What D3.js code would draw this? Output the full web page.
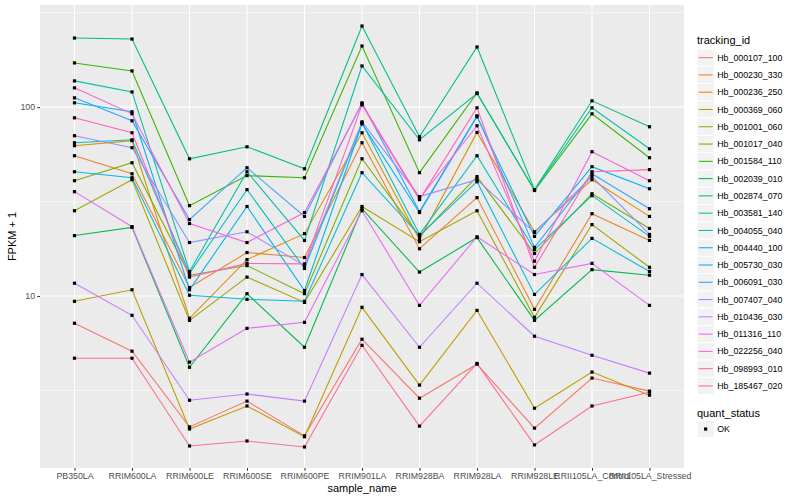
<!DOCTYPE html>
<html lang="en">
<head>
<meta charset="UTF-8">
<title>FPKM by sample</title>
<script src="https://d3js.org/d3.v7.min.js"></script>
<style>
    body { margin: 0; background: #fff; }
    text { font-family: "Liberation Sans", Arial, sans-serif; }
</style>
</head>
<body>
<div id="main"></div>
<script>
    const sampleNames = ["PB350LA", "RRIM600LA", "RRIM600LE", "RRIM600SE", "RRIM600PE", "RRIM901LA",
        "RRIM928BA", "RRIM928LA", "RRIM928LE", "RRII105LA_Control", "RRII105LA_Stressed"]

    const trackingIds = ["Hb_000107_100", "Hb_000230_330", "Hb_000236_250", "Hb_000369_060", "Hb_001001_060",
        "Hb_001017_040", "Hb_001584_110", "Hb_002039_010", "Hb_002874_070", "Hb_003581_140",
        "Hb_004055_040", "Hb_004440_100", "Hb_005730_030", "Hb_006091_030", "Hb_007407_040",
        "Hb_010436_030", "Hb_011316_110", "Hb_022256_040", "Hb_098993_010", "Hb_185467_020"]

    // ggplot default hue palette, 20 levels
    const hueColors = ["#F8766D", "#EA8331", "#D89000", "#C09B00", "#A3A500", "#7CAE00", "#39B600", "#00BB4E",
        "#00BF7D", "#00C1A3", "#00BFC4", "#00BAE0", "#00B0F6", "#35A2FF", "#9590FF", "#C77CFF",
        "#E76BF3", "#FA62DB", "#FF62BC", "#FF6C91"]

    const quantStatus = ["OK"]

    // FPKM + 1 per sample
    const hb000107_100 = [7.18, 5.11, 2.03, 2.78, 1.82, 5.91, 2.88, 4.36, 2.00, 3.68, 3.14]
    const hb000230_330 = [55.3, 44.4, 11.1, 17.0, 16.0, 64.8, 17.8, 33.2, 8.51, 27.3, 19.7]
    const hb000236_250 = [62.5, 66.5, 7.63, 15.6, 21.4, 73.2, 19.9, 73.5, 21.9, 41.3, 26.4]
    const hb000369_060 = [9.38, 10.8, 1.98, 2.62, 1.80, 8.72, 3.38, 8.40, 2.55, 3.96, 2.99]
    const hb001001_060 = [28.3, 41.3, 7.44, 12.6, 9.26, 29.8, 19.4, 28.3, 7.72, 23.9, 14.2]
    const hb001017_040 = [40.8, 50.8, 12.9, 14.5, 10.3, 53.3, 20.7, 42.9, 16.8, 34.8, 22.8]
    const hb001584_110 = [171.4, 155.5, 30.1, 43.4, 42.3, 210.7, 45.0, 119.0, 36.2, 92.2, 54.0]
    const hb002039_010 = [20.9, 23.1, 4.20, 10.3, 5.36, 29.0, 13.4, 20.4, 7.44, 13.8, 12.9]
    const hb002874_070 = [232.2, 229.4, 53.3, 61.7, 47.2, 268.7, 69.7, 208.2, 36.6, 108.0, 78.7]
    const hb003581_140 = [137.7, 120.4, 13.5, 45.5, 19.7, 165.2, 67.2, 118.0, 36.4, 99.2, 60.2]
    const hb004055_040 = [64.8, 67.2, 13.2, 36.6, 14.0, 82.6, 21.2, 55.3, 17.6, 34.0, 20.7]
    const hb004440_100 = [45.5, 42.3, 10.1, 9.61, 9.38, 45.0, 20.9, 40.3, 10.2, 20.2, 13.5]
    const hb005730_030 = [105.4, 94.5, 10.8, 29.8, 10.7, 81.6, 27.7, 88.9, 20.7, 48.4, 37.0]
    const hb006091_030 = [112.0, 84.7, 25.4, 47.8, 26.4, 105.4, 28.0, 90.0, 18.1, 44.4, 29.0]
    const hb007407_040 = [70.6, 61.0, 19.2, 21.9, 14.5, 83.6, 33.6, 41.3, 21.7, 42.9, 21.2]
    const hb010436_030 = [11.7, 7.91, 2.81, 3.03, 2.78, 13.0, 5.36, 11.7, 6.13, 4.86, 3.91]
    const hb011316_110 = [35.7, 23.3, 4.47, 6.75, 7.26, 28.3, 8.93, 20.6, 13.0, 14.9, 8.93]
    const hb022256_040 = [126.5, 92.2, 24.2, 19.2, 27.7, 104.1, 32.8, 79.7, 15.3, 58.1, 40.8]
    const hb098993_010 = [87.8, 73.2, 12.6, 14.9, 14.8, 102.8, 32.4, 99.2, 14.2, 45.5, 46.7]
    const hb185467_020 = [4.69, 4.69, 1.61, 1.71, 1.59, 5.49, 2.05, 4.40, 1.63, 2.62, 3.10]

    const seriesValues = [hb000107_100, hb000230_330, hb000236_250, hb000369_060, hb001001_060,
        hb001017_040, hb001584_110, hb002039_010, hb002874_070, hb003581_140,
        hb004055_040, hb004440_100, hb005730_030, hb006091_030, hb007407_040,
        hb010436_030, hb011316_110, hb022256_040, hb098993_010, hb185467_020]

    let width = 800, height = 500
    let panel = {left: 40, right: 684, top: 5, bottom: 468}

    let svg = d3.select("#main")
        .append("svg")
        .attr("id", "svg")
        .attr("width", width)
        .attr("height", height)

    // discrete x, ggplot style expansion of 0.6 step on each side
    let XScale = d3.scalePoint()
        .domain(sampleNames)
        .range([panel.left, panel.right])
        .padding(0.6)

    // log10 y, expanded 5% of the data range
    let allValues = seriesValues.flat()
    let logMin = Math.log10(d3.min(allValues)), logMax = Math.log10(d3.max(allValues))
    let pad = (logMax - logMin) * 0.05
    let YScale = d3.scaleLog()
        .domain([Math.pow(10, logMin - pad), Math.pow(10, logMax + pad)])
        .range([panel.bottom, panel.top])

    svg.append("rect")
        .attr("x", panel.left).attr("y", panel.top)
        .attr("width", panel.right - panel.left).attr("height", panel.bottom - panel.top)
        .attr("fill", "#EBEBEB")

    let [d0, d1] = YScale.domain()
    let minorBreaks = [0.5, 1.5, 2.5, 3.5].map(p => Math.pow(10, p)).filter(v => v > d0 && v < d1)
    let majorBreaks = [1, 10, 100, 1000].filter(v => v > d0 && v < d1)

    let grid = svg.append("g")
    grid.selectAll(".minor").data(minorBreaks).enter().append("line")
        .attr("x1", panel.left).attr("x2", panel.right)
        .attr("y1", d => YScale(d)).attr("y2", d => YScale(d))
        .attr("stroke", "#fff").attr("stroke-width", 0.53)
    grid.selectAll(".majorY").data(majorBreaks).enter().append("line")
        .attr("x1", panel.left).attr("x2", panel.right)
        .attr("y1", d => YScale(d)).attr("y2", d => YScale(d))
        .attr("stroke", "#fff").attr("stroke-width", 1.07)
    grid.selectAll(".majorX").data(sampleNames).enter().append("line")
        .attr("x1", d => XScale(d)).attr("x2", d => XScale(d))
        .attr("y1", panel.top).attr("y2", panel.bottom)
        .attr("stroke", "#fff").attr("stroke-width", 1.07)

    let line = d3.line()
        .x((d, i) => XScale(sampleNames[i]))
        .y(d => YScale(d))

    svg.append("g").selectAll("path")
        .data(seriesValues)
        .enter()
        .append("path")
        .attr("d", d => line(d))
        .attr("fill", "none")
        .attr("stroke", (d, i) => hueColors[i])
        .attr("stroke-width", 1.07)

    let pts = []
    seriesValues.forEach(s => s.forEach((v, i) => pts.push({x: sampleNames[i], v: v})))
    let pointSize = 3.2
    svg.append("g").selectAll("rect")
        .data(pts)
        .enter()
        .append("rect")
        .attr("x", d => XScale(d.x) - pointSize / 2)
        .attr("y", d => YScale(d.v) - pointSize / 2)
        .attr("width", pointSize)
        .attr("height", pointSize)
        .attr("fill", "#000")

    // axes
    let y_axis = d3.axisLeft(YScale)
        .tickValues(majorBreaks)
        .tickFormat(d3.format("d"))
        .tickSize(2.75)
        .tickPadding(2.2)
    let gy = svg.append("g").attr("transform", `translate(${panel.left},0)`).call(y_axis)

    let x_axis = d3.axisBottom(XScale)
        .tickSize(2.75)
        .tickPadding(2.2)
    let gx = svg.append("g").attr("transform", `translate(0,${panel.bottom})`).call(x_axis)

    ;[gx, gy].forEach(g => {
        g.select(".domain").remove()
        g.selectAll(".tick line").attr("stroke", "#333333").attr("stroke-width", 1.07)
        g.selectAll(".tick text")
            .attr("fill", "#4D4D4D")
            .style("font-size", "8.8px")
            .style("font-family", "'Liberation Sans', Arial, sans-serif")
    })

    svg.append("text")
        .attr("x", (panel.left + panel.right) / 2)
        .attr("y", 492)
        .attr("text-anchor", "middle")
        .style("font-size", "11px")
        .text("sample_name")

    svg.append("text")
        .attr("transform", `translate(16,${(panel.top + panel.bottom) / 2}) rotate(-90)`)
        .attr("text-anchor", "middle")
        .style("font-size", "11px")
        .text("FPKM + 1")

    // legend: tracking_id
    let keySize = 17.28
    let legendX = 697, legendTop = 49
    let legend = svg.append("g")
    legend.append("text")
        .attr("x", legendX).attr("y", 44)
        .style("font-size", "11px")
        .text("tracking_id")

    let keys = legend.selectAll(".key")
        .data(trackingIds)
        .enter()
        .append("g")
        .attr("transform", (d, i) => `translate(${legendX}, ${legendTop + i * keySize})`)
    keys.append("rect")
        .attr("width", keySize).attr("height", keySize)
        .attr("fill", "#F2F2F2").attr("stroke", "#fff").attr("stroke-width", 1)
    keys.append("line")
        .attr("x1", 1.7).attr("x2", keySize - 1.7)
        .attr("y1", keySize / 2).attr("y2", keySize / 2)
        .attr("stroke", (d, i) => hueColors[i])
        .attr("stroke-width", 1.07)
    keys.append("text")
        .attr("x", keySize + 3).attr("y", keySize / 2)
        .attr("dy", "0.35em")
        .style("font-size", "8.8px")
        .text(d => d)

    // legend: quant_status
    legend.append("text")
        .attr("x", legendX).attr("y", 417)
        .style("font-size", "11px")
        .text("quant_status")

    let qkeys = legend.selectAll(".qkey")
        .data(quantStatus)
        .enter()
        .append("g")
        .attr("transform", (d, i) => `translate(${legendX}, ${420.4 + i * keySize})`)
    qkeys.append("rect")
        .attr("width", keySize).attr("height", keySize)
        .attr("fill", "#F2F2F2").attr("stroke", "#fff").attr("stroke-width", 1)
    qkeys.append("rect")
        .attr("x", keySize / 2 - pointSize / 2).attr("y", keySize / 2 - pointSize / 2)
        .attr("width", pointSize).attr("height", pointSize)
        .attr("fill", "#000")
    qkeys.append("text")
        .attr("x", keySize + 3).attr("y", keySize / 2)
        .attr("dy", "0.35em")
        .style("font-size", "8.8px")
        .text(d => d)
</script>
</body>
</html>
